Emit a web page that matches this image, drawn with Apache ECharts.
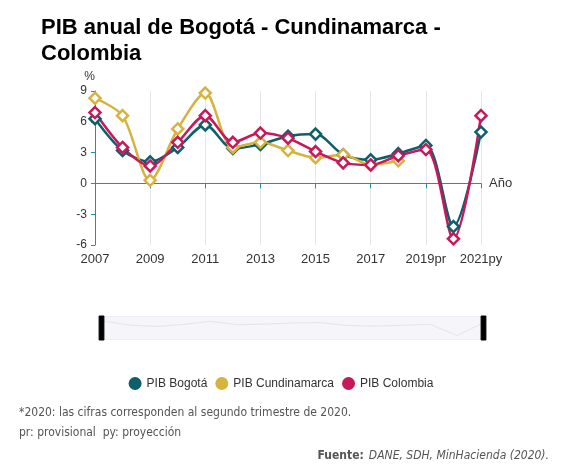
<!DOCTYPE html>
<html>
<head>
<meta charset="utf-8">
<script src="https://cdn.jsdelivr.net/npm/echarts@6/dist/echarts.min.js"></script>
<style>html,body{margin:0;padding:0;background:#fff}#chart{width:562px;height:464px}</style>
</head>
<body>
<div id="chart"></div>
<script>
var years = ["2007","2008","2009","2010","2011","2012","2013","2014","2015","2016","2017","2018","2019pr","2020","2021py"];
var bogota = [6.3, 3.2, 2.1, 3.5, 5.7, 3.4, 3.8, 4.6, 4.8, 2.8, 2.3, 2.9, 3.7, -4.2, 5.0];
var cundinamarca = [8.3, 6.6, 0.3, 5.3, 8.8, 3.5, 4.0, 3.2, 2.5, 2.8, 1.8, 2.2, null, null, null];
var colombia = [6.9, 3.5, 1.7, 4.0, 6.6, 4.0, 4.9, 4.4, 3.1, 2.0, 1.8, 2.7, 3.3, -5.4, 6.6];
var colors = ["#0f5e6b", "#d6b33f", "#c8185a"];
var names = ["PIB Bogotá", "PIB Cundinamarca", "PIB Colombia"];

var myChart = echarts.init(document.getElementById("chart"));

function serie(name, data, color) {
  return {
    name: name,
    type: "line",
    data: data,
    smooth: 0.3,
    symbol: "diamond",
    symbolSize: 11,
    connectNulls: false,
    lineStyle: { color: color, width: 2.5 },
    itemStyle: { color: "#fff", borderColor: color, borderWidth: 2.5 }
  };
}

var option = {
  textStyle: { fontFamily: "Liberation Sans" },
  title: [
    {
      text: "PIB anual de Bogotá - Cundinamarca -\nColombia",
      left: 36, top: 10,
      textStyle: { fontSize: 22, fontWeight: "bold", color: "#000", lineHeight: 26 }
    },
    {
      text: "*2020: las cifras corresponden al segundo trimestre de 2020.\npr: provisional  py: proyección",
      left: 14, top: 398,
      textStyle: { fontSize: 12, fontWeight: "normal", color: "#555", lineHeight: 20, fontFamily: "DejaVu Sans Condensed" }
    },
    {
      text: "{b|Fuente:} {i|DANE, SDH, MinHacienda (2020).}",
      right: 8, top: 442,
      textStyle: {
        rich: {
          b: { fontSize: 12, fontWeight: "bold", color: "#555", fontFamily: "DejaVu Sans Condensed" },
          i: { fontSize: 12, fontWeight: "normal", fontStyle: "italic", color: "#555", fontFamily: "DejaVu Sans Condensed" }
        }
      }
    }
  ],
  legend: {
    top: 372, left: "center",
    itemWidth: 13, itemHeight: 13, itemGap: 8,
    textStyle: { fontSize: 12, color: "#333" },
    data: names.map(function (n, i) {
      return { name: n, icon: "circle", itemStyle: { color: colors[i], borderWidth: 0 } };
    })
  },
  grid: { left: 95, right: 81, top: 91, bottom: 219 },
  xAxis: {
    type: "category",
    data: years,
    boundaryGap: false,
    name: "Año",
    nameGap: 8,
    nameTextStyle: { color: "#333", fontSize: 13 },
    axisLine: { onZero: true, lineStyle: { color: "#1b8ec2" } },
    axisTick: { interval: 1, length: 5, lineStyle: { color: "#1b8ec2" } },
    axisLabel: { interval: 1, color: "#333", fontSize: 13, margin: 8, showMaxLabel: true },
    splitLine: { show: true, interval: 1, lineStyle: { color: "#e6e6e6" } }
  },
  yAxis: {
    type: "value",
    min: -6, max: 9, interval: 3,
    name: "%",
    nameGap: 8,
    nameTextStyle: { color: "#333", fontSize: 12, align: "right" },
    axisLine: { show: true, lineStyle: { color: "#1b8ec2" } },
    axisTick: { show: true, length: 4, lineStyle: { color: "#1b8ec2" } },
    axisLabel: { color: "#333", fontSize: 12 },
    splitLine: { show: false }
  },
  dataZoom: [{
    type: "slider",
    left: 98, right: 80, top: 316, height: 24,
    start: 0, end: 100,
    showDetail: false,
    borderColor: "#eceef7",
    backgroundColor: "#f6f6fa",
    fillerColor: "rgba(0,0,0,0)",
    handleIcon: "path://M0,0 L2,0 L2,10 L0,10 Z",
    handleSize: "100%",
    handleStyle: { color: "#000", borderColor: "#000" },
    moveHandleSize: 0,
    dataBackground: { lineStyle: { color: "#d0d0d8" }, areaStyle: { color: "rgba(0,0,0,0)" } },
    selectedDataBackground: { lineStyle: { color: "#d0d0d8" }, areaStyle: { color: "rgba(0,0,0,0)" } }
  }],
  series: [
    serie(names[0], bogota, colors[0]),
    serie(names[1], cundinamarca, colors[1]),
    serie(names[2], colombia, colors[2])
  ]
};

myChart.setOption(option);
window.addEventListener("resize", function () { myChart.resize(); });
</script>
</body>
</html>
